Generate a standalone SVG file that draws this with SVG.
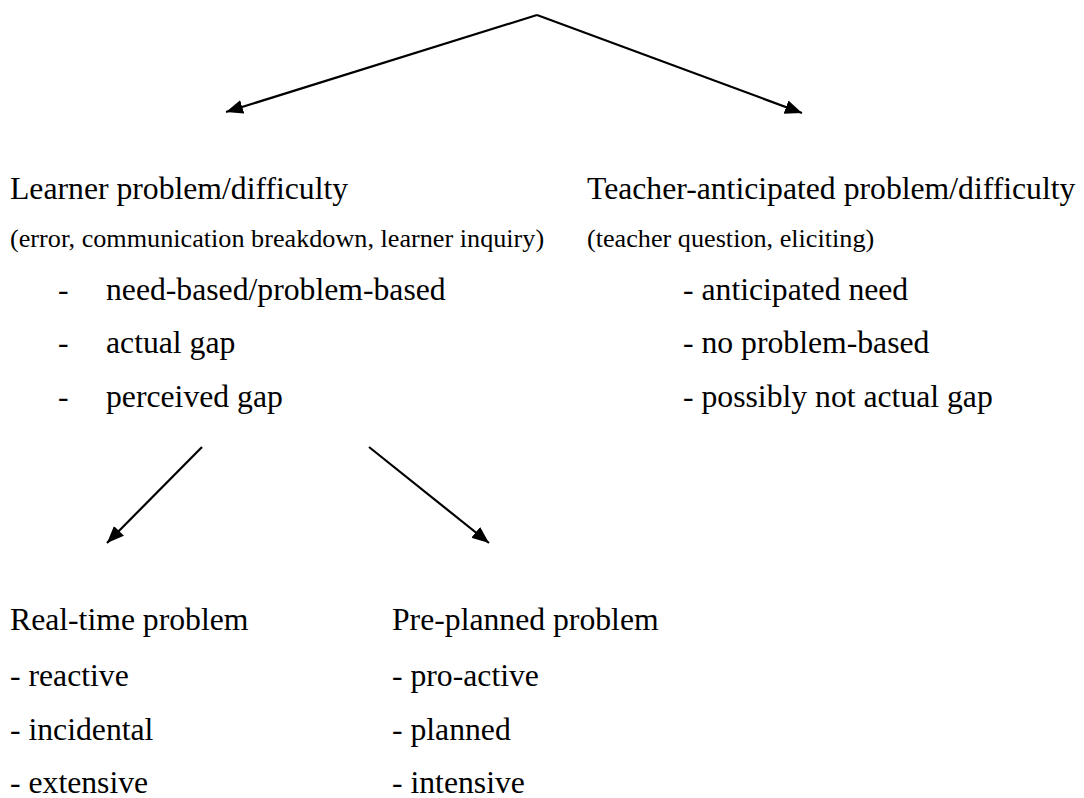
<svg xmlns="http://www.w3.org/2000/svg" width="1084" height="798" viewBox="0 0 1084 798">
<style>
  text { font-family: "Liberation Serif", "Times New Roman", serif; fill: #000; }
  .big { font-size: 31.7px; }
  .small { font-size: 26.2px; }
  .conn { stroke: #000; stroke-width: 2.2; fill: none; }
</style>
<defs>
  <marker id="arrow" markerUnits="userSpaceOnUse" markerWidth="19" markerHeight="15" refX="17" refY="7" orient="auto">
    <path d="M0,0 L17,7 L0,14 Z" fill="#000"/>
  </marker>
</defs>
<rect width="1084" height="798" fill="#fff"/>
<g id="connectors">
  <line class="conn" x1="537" y1="15" x2="226" y2="112" marker-end="url(#arrow)"/>
  <line class="conn" x1="537" y1="15" x2="802" y2="113" marker-end="url(#arrow)"/>
  <line class="conn" x1="202" y1="447" x2="107" y2="543" marker-end="url(#arrow)"/>
  <line class="conn" x1="369" y1="447" x2="489" y2="543" marker-end="url(#arrow)"/>
</g>
<g id="learner">
  <text class="big" x="10" y="199">Learner problem/difficulty</text>
  <text class="small" x="10" y="247">(error, communication breakdown, learner inquiry)</text>
  <text class="big" x="58" y="300">-</text><text class="big" x="106" y="300">need-based/problem-based</text>
  <text class="big" x="58" y="353">-</text><text class="big" x="106" y="353">actual gap</text>
  <text class="big" x="58" y="407">-</text><text class="big" x="106" y="407">perceived gap</text>
</g>
<g id="teacher">
  <text class="big" x="587" y="199">Teacher-anticipated problem/difficulty</text>
  <text class="small" x="587" y="247">(teacher question, eliciting)</text>
  <text class="big" x="683" y="300">- anticipated need</text>
  <text class="big" x="683" y="353">- no problem-based</text>
  <text class="big" x="683" y="407">- possibly not actual gap</text>
</g>
<g id="realtime">
  <text class="big" x="10" y="630">Real-time problem</text>
  <text class="big" x="10" y="686">- reactive</text>
  <text class="big" x="10" y="740">- incidental</text>
  <text class="big" x="10" y="793">- extensive</text>
</g>
<g id="preplanned">
  <text class="big" x="392" y="630">Pre-planned problem</text>
  <text class="big" x="392" y="686">- pro-active</text>
  <text class="big" x="392" y="740">- planned</text>
  <text class="big" x="392" y="793">- intensive</text>
</g>
</svg>
